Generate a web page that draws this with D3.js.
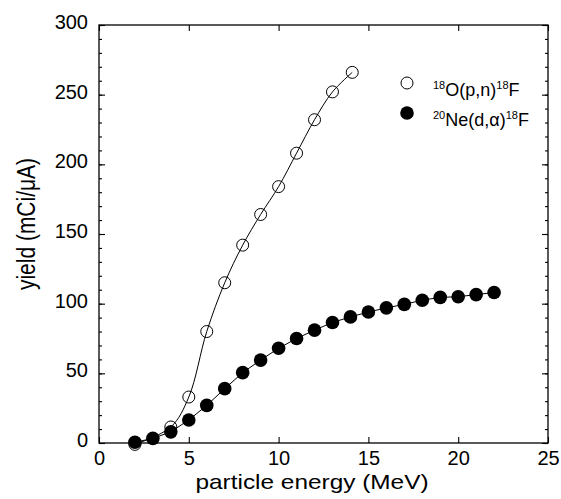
<!DOCTYPE html>
<html>
<head>
<meta charset="utf-8">
<script src="https://cdn.jsdelivr.net/npm/d3@7"></script>
<style>
  body { margin: 0; background: #fff; }
  text { font-family: "Liberation Sans", Arial, sans-serif; fill: #000; }
</style>
</head>
<body>
<div id="chart"></div>
<script>
// energies (MeV) and yields (mCi/uA)
var oxygenEnergy = [2, 4, 5, 6, 7, 8, 9, 10, 11, 12, 13, 14.1];
var oxygenYield = [-1, 11.5, 33, 80, 115, 142, 164, 184, 208, 232, 252, 266];
var neonEnergy = [2, 3, 4, 5, 6, 7, 8, 9, 10, 11, 12, 13, 14, 15, 16, 17, 18, 19, 20, 21, 22];
var neonYield = [0.5, 3.3, 8, 16.5, 27, 39, 50.5, 59.5, 68, 75, 81, 86.5, 90.5, 94, 97, 99.5, 102.5, 104.5, 105, 106.5, 108];
var xTicks = [0, 5, 10, 15, 20, 25];
var yTicks = [0, 50, 100, 150, 200, 250, 300];

var margin = { top: 25, right: 13, bottom: 56, left: 99 },
    width = 561 - margin.left - margin.right,
    height = 499 - margin.top - margin.bottom;

var svg = d3.select("#chart").append("svg")
    .attr("width", 561)
    .attr("height", 499)
    .append("g")
    .attr("transform", "translate(" + margin.left + "," + margin.top + ")");

var x = d3.scaleLinear().domain([0, 25]).range([0, width]);
var y = d3.scaleLinear().domain([0, 300]).range([height, 0]);

// frame
svg.append("rect")
    .attr("width", width)
    .attr("height", height)
    .attr("fill", "none")
    .attr("stroke", "#000")
    .attr("stroke-width", 1.3);

// bottom axis with labels
var bottom = svg.append("g")
    .attr("transform", "translate(0," + height + ")")
    .call(d3.axisBottom(x).tickValues(xTicks).tickSizeInner(-6).tickSizeOuter(0).tickPadding(8));
bottom.selectAll("text").attr("font-size", 20).attr("font-family", null);

// top axis ticks only
svg.append("g")
    .call(d3.axisTop(x).tickValues(xTicks).tickSizeInner(-6).tickSizeOuter(0).tickFormat(""));

// left axis with labels
var left = svg.append("g")
    .call(d3.axisLeft(y).tickValues(yTicks).tickSizeInner(-6).tickSizeOuter(0).tickPadding(11));
left.selectAll("text").attr("font-size", 20).attr("font-family", null).attr("dy", "0.17em");

// minor y ticks on both sides
svg.append("g")
    .call(d3.axisLeft(y).ticks(30).tickSizeInner(-3).tickSizeOuter(0).tickFormat(""));
svg.append("g")
    .attr("transform", "translate(" + width + ",0)")
    .call(d3.axisRight(y).ticks(30).tickSizeInner(-3).tickSizeOuter(0).tickFormat(""));
svg.append("g")
    .attr("transform", "translate(" + width + ",0)")
    .call(d3.axisRight(y).tickValues(yTicks).tickSizeInner(-6).tickSizeOuter(0).tickFormat(""));

svg.selectAll(".domain").remove();
svg.selectAll(".tick line").attr("stroke", "#000").attr("stroke-width", 1.1);

// axis titles (the scanned figure is a bit wider than tall)
svg.append("text")
    .attr("transform", "translate(" + (312 - margin.left) + "," + (489 - margin.top) + ") scale(1.22,1)")
    .attr("text-anchor", "middle")
    .attr("font-size", 20)
    .text("particle energy (MeV)");

svg.append("text")
    .attr("transform", "translate(" + (35 - margin.left) + "," + (224 - margin.top) + ") rotate(-90) scale(1,1.2)")
    .attr("text-anchor", "middle")
    .attr("font-size", 21)
    .text("yield (mCi/\u03bcA)");

var oxygen = oxygenEnergy.map(function (d, i) { return [d, oxygenYield[i]]; });
var neon = neonEnergy.map(function (d, i) { return [d, neonYield[i]]; });

var line = d3.line()
    .x(function (d) { return x(d[0]); })
    .y(function (d) { return y(d[1]); });

svg.append("path")
    .datum(neon)
    .attr("d", line)
    .attr("fill", "none")
    .attr("stroke", "#000")
    .attr("stroke-width", 1);

svg.append("path")
    .datum(oxygen)
    .attr("d", line.curve(d3.curveCatmullRom.alpha(0.5)))
    .attr("fill", "none")
    .attr("stroke", "#000")
    .attr("stroke-width", 1);

svg.selectAll(".open")
    .data(oxygen)
    .enter().append("circle")
    .attr("class", "open")
    .attr("cx", function (d) { return x(d[0]); })
    .attr("cy", function (d) { return y(d[1]); })
    .attr("r", 6)
    .attr("fill", "none")
    .attr("stroke", "#000")
    .attr("stroke-width", 1);

svg.selectAll(".filled")
    .data(neon)
    .enter().append("circle")
    .attr("class", "filled")
    .attr("cx", function (d) { return x(d[0]); })
    .attr("cy", function (d) { return y(d[1]); })
    .attr("r", 6.8)
    .attr("fill", "#000");

// legend
var legend = svg.append("g").attr("transform", "translate(308,58)");
legend.append("circle")
    .attr("r", 6).attr("fill", "none").attr("stroke", "#000").attr("stroke-width", 1);
legend.append("circle")
    .attr("cy", 30).attr("r", 6.8).attr("fill", "#000");

function reaction(g, yPos, parts) {
    var t = g.append("text").attr("x", 26).attr("y", yPos).attr("font-size", 18);
    parts.forEach(function (p) {
        if (p.sup) {
            t.append("tspan").attr("font-size", 11).attr("dy", -7).text(p.sup);
        } else {
            t.append("tspan").attr("font-size", 18).attr("dy", 7).text(p.txt);
        }
    });
    t.select("tspan").attr("dy", -7);
}
reaction(legend, 13, [{ sup: "18" }, { txt: "O(p,n)" }, { sup: "18" }, { txt: "F" }]);
reaction(legend, 43, [{ sup: "20" }, { txt: "Ne(d,\u03b1)" }, { sup: "18" }, { txt: "F" }]);
</script>
</body>
</html>
